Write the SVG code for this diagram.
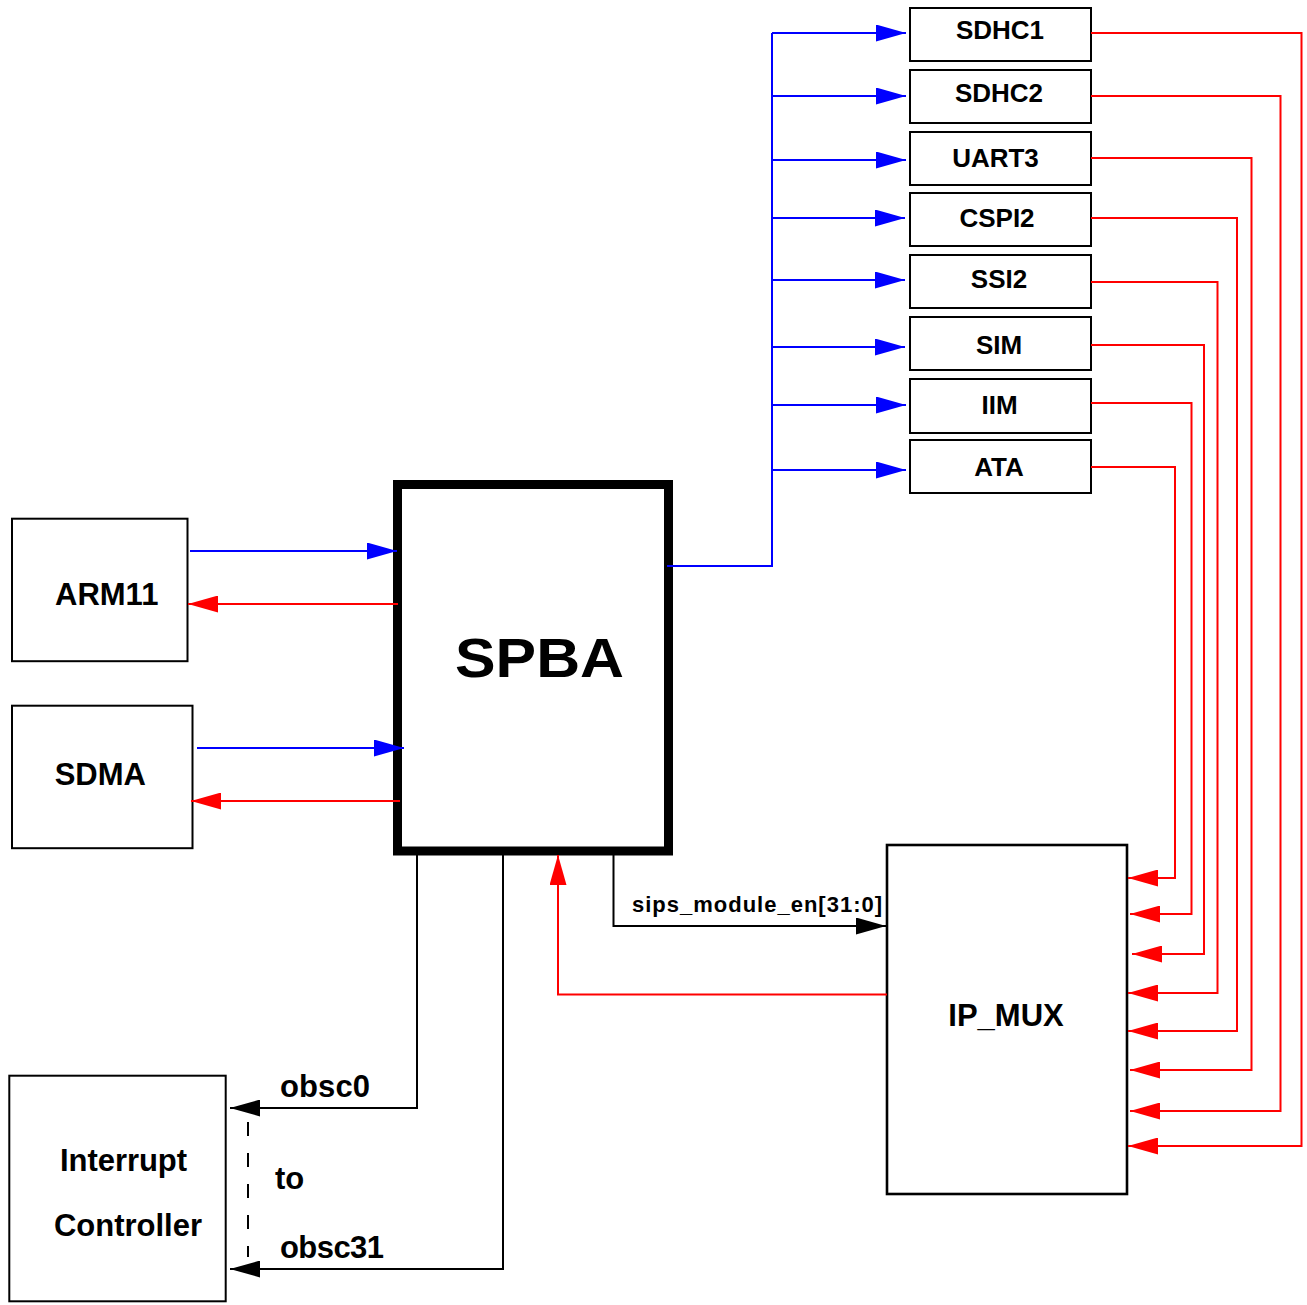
<svg xmlns="http://www.w3.org/2000/svg" width="1307" height="1305" viewBox="0 0 1307 1305">
<style>
text{font-family:"Liberation Sans",Arial,Helvetica,sans-serif;font-weight:bold;fill:#000}
.box{fill:#fff;stroke:#000;stroke-width:2}
.lbl{font-size:26px;text-anchor:middle}
.big{font-size:31px}
.b{fill:none;stroke:#0000ff;stroke-width:2}
.r{fill:none;stroke:#ff0000;stroke-width:2}
.k{fill:none;stroke:#000;stroke-width:2}
.ba{marker-end:url(#ab)}
.ra{marker-end:url(#ar)}
.ka{marker-end:url(#ak)}
</style>
<defs>
<marker id="ab" markerUnits="userSpaceOnUse" markerWidth="30" markerHeight="17" refX="30" refY="8.5" orient="auto"><path d="M0,0L30,8.5L0,17z" fill="#0000ff"/></marker>
<marker id="ar" markerUnits="userSpaceOnUse" markerWidth="30" markerHeight="17" refX="30" refY="8.5" orient="auto"><path d="M0,0L30,8.5L0,17z" fill="#ff0000"/></marker>
<marker id="ak" markerUnits="userSpaceOnUse" markerWidth="30" markerHeight="17" refX="30" refY="8.5" orient="auto"><path d="M0,0L30,8.5L0,17z" fill="#000"/></marker>
</defs>
<rect width="1307" height="1305" fill="#fff"/>

<g id="SDHC1"><rect class="box" x="910" y="8" width="181" height="53"/><text class="lbl" x="1000" y="39">SDHC1</text></g>
<g id="SDHC2"><rect class="box" x="910" y="70" width="181" height="53"/><text class="lbl" x="999" y="102">SDHC2</text></g>
<g id="UART3"><rect class="box" x="910" y="132" width="181" height="53"/><text class="lbl" x="995.5" y="167">UART3</text></g>
<g id="CSPI2"><rect class="box" x="910" y="193" width="181" height="53"/><text class="lbl" x="997" y="227">CSPI2</text></g>
<g id="SSI2"><rect class="box" x="910" y="255" width="181" height="53"/><text class="lbl" x="999" y="288">SSI2</text></g>
<g id="SIM"><rect class="box" x="910" y="317" width="181" height="53"/><text class="lbl" x="999" y="354">SIM</text></g>
<g id="IIM"><rect class="box" x="910" y="379" width="181" height="54"/><text class="lbl" x="999.5" y="414">IIM</text></g>
<g id="ATA"><rect class="box" x="910" y="440" width="181" height="53"/><text class="lbl" x="999" y="476">ATA</text></g>

<g id="SPBA"><rect x="397.5" y="484.5" width="271" height="366.5" fill="none" stroke="#000" stroke-width="9"/><text x="455" y="677" font-size="56" textLength="169" lengthAdjust="spacingAndGlyphs">SPBA</text></g>
<g id="ARM11"><rect class="box" x="12" y="518.7" width="175.5" height="142.5"/><text class="big" x="106.7" y="605" text-anchor="middle">ARM11</text></g>
<g id="SDMA"><rect class="box" x="12" y="705.7" width="180.5" height="142.5"/><text class="big" x="100.3" y="785" text-anchor="middle">SDMA</text></g>
<g id="IP_MUX"><rect x="887" y="845" width="240" height="349" fill="none" stroke="#000" stroke-width="2.6"/><text class="big" x="1006" y="1026" text-anchor="middle">IP_MUX</text></g>
<g id="InterruptController"><rect class="box" x="9.3" y="1075.7" width="216.4" height="225.6"/><text class="big" x="60" y="1171" textLength="127" lengthAdjust="spacing">Interrupt</text><text class="big" x="54" y="1236" textLength="148" lengthAdjust="spacing">Controller</text></g>

<g id="connectors">
<path class="b" d="M667,566H772V33"/>
<path class="b ba" d="M772,33H906"/>
<path class="b ba" d="M772,96H906"/>
<path class="b ba" d="M772,160H906"/>
<path class="b ba" d="M772,218H905"/>
<path class="b ba" d="M772,280H905"/>
<path class="b ba" d="M772,347H905"/>
<path class="b ba" d="M772,405H906"/>
<path class="b ba" d="M772,470H906"/>
<path class="r ra" d="M1091,467H1175V878H1128"/>
<path class="r ra" d="M1091,403H1191.5V914H1130"/>
<path class="r ra" d="M1091,345H1204V954H1132"/>
<path class="r ra" d="M1091,282H1217.5V993H1128"/>
<path class="r ra" d="M1091,218H1237V1031H1128"/>
<path class="r ra" d="M1091,158H1251.5V1070H1130"/>
<path class="r ra" d="M1091,96H1280.5V1111H1130"/>
<path class="r ra" d="M1091,33H1301.5V1146H1128"/>
<path class="b ba" d="M190,551H397"/>
<path class="r ra" d="M398,604H188"/>
<path class="b ba" d="M197,748H404"/>
<path class="r ra" d="M400,801H191"/>
<path class="k ka" d="M613.5,855V926H886"/>
<path class="r ra" d="M887,994.5H558V855"/>
<path class="k ka" d="M417,855V1108H230"/>
<path class="k ka" d="M503,855V1269H230"/>
<path class="k" d="M248,1122V1257" stroke-dasharray="14 17"/>
<text x="632" y="912" font-size="22" textLength="250" lengthAdjust="spacing">sips_module_en[31:0]</text>
<text x="280" y="1097" class="big" textLength="90" lengthAdjust="spacing">obsc0</text>
<text x="275" y="1189" class="big">to</text>
<text x="280" y="1258" class="big" textLength="104" lengthAdjust="spacing">obsc31</text>
</g>
</svg>
